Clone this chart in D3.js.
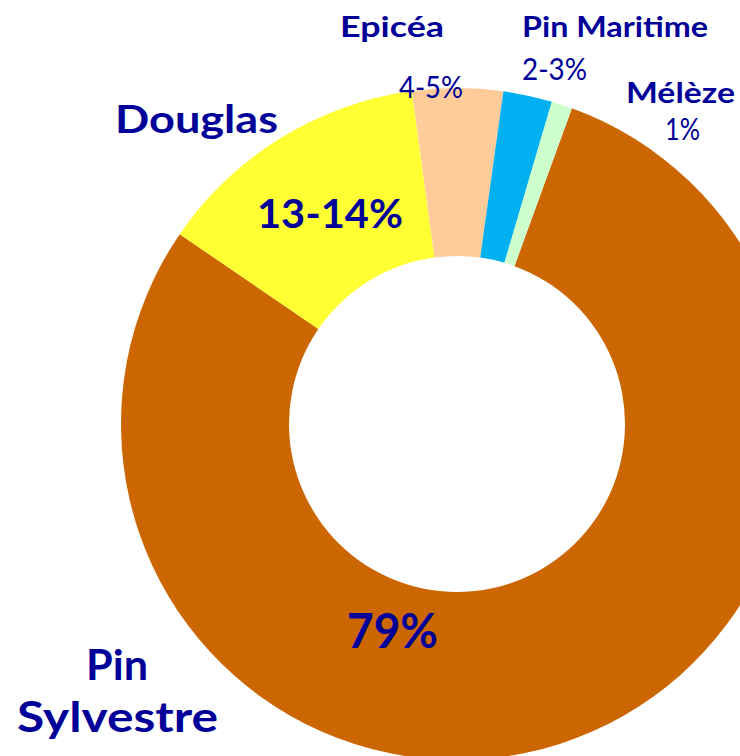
<!DOCTYPE html>
<html>
<head>
<meta charset="utf-8">
<script src="https://cdn.jsdelivr.net/npm/d3@7"></script>
<style>
  html, body { margin: 0; padding: 0; background: #fff; overflow: hidden; }
  svg { display: block; }
  text { font-family: Lato, "DejaVu Sans", sans-serif; fill: #000099; }
</style>
</head>
<body>
<svg id="chart" width="740" height="756"></svg>
<script>
// ---- data ----
const categories = ["Pin Sylvestre", "Douglas", "Epicéa", "Pin Maritime", "Mélèze"];
const values = [79, 13.3, 4.35, 2.35, 1.0];
const valueLabels = ["79%", "13-14%", "4-5%", "2-3%", "1%"];
const colors = ["#CC6600", "#FFFF33", "#FFCC99", "#00B0F0", "#CCFFCC"];

// ---- layout (positions of the free-standing labels) ----
const cx = 457, cy = 424, rOuter = 336, rInner = 168;
const startDeg = 20;
const textItems = [
  // [text, x center, baseline y, font-size, weight, width]
  ["Douglas", 196.5, 133, 39, 700, 163],
  ["13-14%", 330, 228, 41, 700, 146],
  ["Epicéa", 392, 37, 29, 700, 104],
  ["4-5%", 431, 98, 30, 400, 64],
  ["Pin Maritime", 615, 37, 29, 700, 186],
  ["2-3%", 554.5, 80, 30, 400, 65],
  ["Mélèze", 680.5, 103, 29, 700, 109],
  ["1%", 682.5, 140, 30, 400, 35],
  ["79%", 392.5, 648, 48, 700, 91],
  ["Pin", 117, 680, 42, 700, 62],
  ["Sylvestre", 117.5, 732, 42, 700, 201]
];

const svg = d3.select("#chart");
const data = categories.map((c, i) => ({ name: c, value: values[i], color: colors[i], label: valueLabels[i] }));

const pie = d3.pie()
  .sort(null)
  .value(d => d.value)
  .startAngle(startDeg * Math.PI / 180)
  .endAngle((startDeg + 360) * Math.PI / 180);

const arc = d3.arc().innerRadius(rInner).outerRadius(rOuter);

const g = svg.append("g").attr("transform", `translate(${cx},${cy})`);
g.selectAll("path")
  .data(pie(data))
  .join("path")
  .attr("d", arc)
  .attr("fill", d => d.data.color);

svg.append("g").selectAll("text")
  .data(textItems)
  .join("text")
  .attr("x", d => d[1])
  .attr("y", d => d[2])
  .attr("text-anchor", "middle")
  .attr("font-size", d => d[3])
  .attr("font-weight", d => d[4])
  .attr("textLength", d => d[5])
  .attr("lengthAdjust", "spacingAndGlyphs")
  .text(d => d[0]);
</script>
</body>
</html>
